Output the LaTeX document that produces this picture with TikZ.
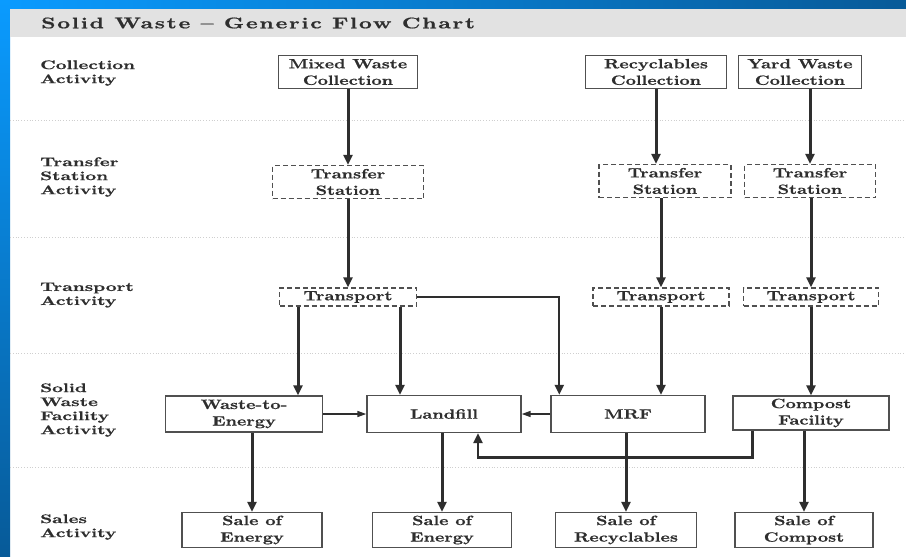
\documentclass[tikz,border=0pt]{standalone}
\usepackage{fontspec}
\newfontfamily\boxfamily{lmroman10-bold.otf}[FakeStretch=1.32,FakeBold=0.6]
\newfontfamily\labelfamily{lmroman10-bold.otf}[FakeStretch=1.5,FakeBold=0.6]
\newfontfamily\titlefamily{lmroman10-bold.otf}[FakeStretch=1.45,LetterSpace=11,FakeBold=0.8]
\usetikzlibrary{arrows.meta}
\definecolor{slideblue}{HTML}{0A9BFF}
\definecolor{slidedark}{HTML}{075A98}
\definecolor{bandgray}{HTML}{E2E2E2}
\definecolor{rulegray}{HTML}{CFCFCF}
\definecolor{inkgray}{HTML}{2E2E2E}
\definecolor{boxgray}{HTML}{505050}
\begin{document}
\begin{tikzpicture}[x=1pt, y=-1pt,
  stage/.style={draw=boxgray, line width=1.4pt, fill=white, align=center, inner sep=1pt,
    text=inkgray, font=\boxfamily\fontsize{13.5}{16.5}\selectfont},
  dstage/.style={stage, dash pattern=on 5pt off 3pt},
  rowlabel/.style={anchor=west, align=left, inner sep=0pt, text=inkgray,
    font=\labelfamily\fontsize{12.5}{14}\selectfont},
  flow/.style={draw=inkgray, line width=3pt, -{Triangle[length=10pt,width=9pt]}},
  thinflow/.style={flow, line width=1.5pt, -{Triangle[length=9pt,width=6pt]}}]
\useasboundingbox (0,0) rectangle (906,557);
% slide frame and title band
\fill[white] (0,0) rectangle (906,557);
\shade[left color=slideblue, right color=slidedark] (0,0) rectangle (906,9);
\shade[top color=slideblue, bottom color=slidedark] (0,0) rectangle (10,557);
\fill[bandgray] (10,9) rectangle (906,37);
\node[anchor=west, inner sep=0pt, text=inkgray, font=\titlefamily\fontsize{15.5}{18}\selectfont]
  (title) at (41,23) {Solid Waste – Generic Flow Chart};
\foreach \y in {120,237,353,467}
  \draw[rulegray, line width=0.8pt, dotted] (10,\y) -- (906,\y);

% row labels
\node[rowlabel] (rCol) at (40,73) {Collection\\Activity};
\node[rowlabel] (rTrs) at (40,177) {Transfer\\Station\\Activity};
\node[rowlabel] (rTrp) at (40,295) {Transport\\Activity};
\node[rowlabel] (rFac) at (40,410) {Solid\\Waste\\Facility\\Activity};
\node[rowlabel] (rSal) at (40,527) {Sales\\Activity};

% collection
\node[stage, minimum width=139pt, minimum height=33pt] (MixC) at (348,72) {Mixed Waste\\Collection};
\node[stage, minimum width=141pt, minimum height=33pt] (RecC) at (656,72) {Recyclables\\Collection};
\node[stage, minimum width=123pt, minimum height=33pt] (YrdC) at (800,72) {Yard Waste\\Collection};
% transfer stations
\node[dstage, minimum width=151pt, minimum height=33pt] (TS1) at (348,182) {Transfer\\Station};
\node[dstage, minimum width=132pt, minimum height=33pt] (TS2) at (665,181) {Transfer\\Station};
\node[dstage, minimum width=131pt, minimum height=33pt] (TS3) at (810,181) {Transfer\\Station};
% transport
\node[dstage, minimum width=137pt, minimum height=18pt] (Tr1) at (348,297) {Transport};
\node[dstage, minimum width=136pt, minimum height=18pt] (Tr2) at (661,297) {Transport};
\node[dstage, minimum width=135pt, minimum height=18pt] (Tr3) at (811,297) {Transport};
% facilities
\node[stage, minimum width=157pt, minimum height=36pt] (WtE) at (244,414) {Waste-to-\\Energy};
\node[stage, minimum width=154pt, minimum height=37pt] (Lfl) at (444,414) {Landfill};
\node[stage, minimum width=154pt, minimum height=37pt] (MRF) at (628,414) {MRF};
\node[stage, minimum width=156pt, minimum height=34pt] (Cmp) at (811,413) {Compost\\Facility};
% sales
\node[stage, minimum width=140pt, minimum height=35pt] (SEn1) at (252,530) {Sale of\\Energy};
\node[stage, minimum width=139pt, minimum height=35pt] (SEn2) at (442,530) {Sale of\\Energy};
\node[stage, minimum width=141pt, minimum height=35pt] (SRec) at (626,530) {Sale of\\Recyclables};
\node[stage, minimum width=138pt, minimum height=35pt] (SCmp) at (804,530) {Sale of\\Compost};

% connector ends
\coordinate (wtein) at ([xshift=-50pt]Tr1.south);
\coordinate (lflin) at ([xshift=52pt]Tr1.south);
\coordinate (mrfin) at ([xshift=9pt]MRF.north west);
\coordinate (cpout) at ([xshift=20pt]Cmp.south west);
\coordinate (lflup) at ([xshift=34pt]Lfl.south);

\begin{scope}[every edge/.style={flow}]
\path (MixC) edge (TS1);
\path (RecC.south) edge (RecC.south |- TS2.north);
\path (YrdC.south -| TS3.north) edge (TS3.north);
\path (TS1) edge (Tr1);
\path (TS2.south -| Tr2.north) edge (Tr2.north);
\path (TS3.south -| Tr3.north) edge (Tr3.north);
\path (wtein) edge (wtein |- WtE.north);
\path (lflin) edge (lflin |- Lfl.north);
\path (Tr2.south) edge (Tr2.south |- MRF.north);
\path (Tr3.south) edge (Tr3.south |- Cmp.north);
\path (SEn1.north |- WtE.south) edge (SEn1.north);
\path (SEn2.north |- Lfl.south) edge (SEn2.north);
\path (SRec.north |- MRF.south) edge (SRec.north);
\path (SCmp.north |- Cmp.south) edge (SCmp.north);
\end{scope}
\draw[thinflow] (WtE) -- (Lfl);
\draw[thinflow] (MRF) -- (Lfl);
\draw[flow, line width=2.2pt] (Tr1.east) -| (mrfin);
\draw[flow, line width=2.5pt] (cpout) -- ++(0,27) -| (lflup);
\end{tikzpicture}
\end{document}
